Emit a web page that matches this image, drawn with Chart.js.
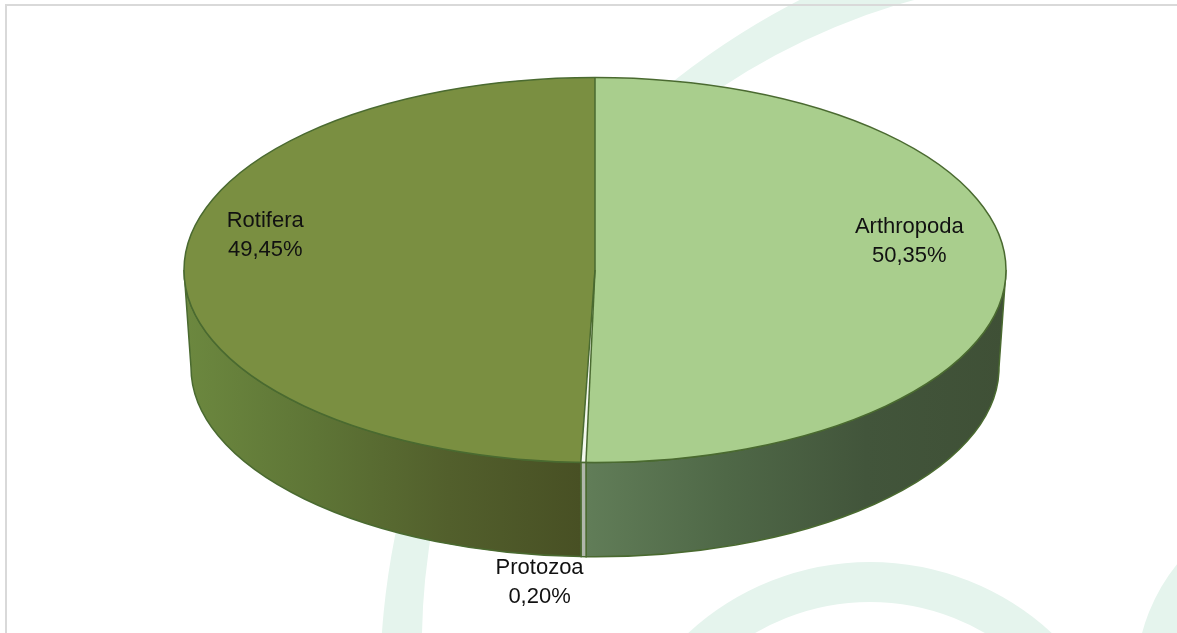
<!DOCTYPE html>
<html>
<head>
<meta charset="utf-8">
<script src="https://cdn.jsdelivr.net/npm/chart.js@4.4.1/dist/chart.umd.min.js"></script>
<style>
  html, body { margin: 0; padding: 0; background: #fff; overflow: hidden; }
  canvas { display: block; }
</style>
</head>
<body>
<canvas id="chart" width="1177" height="633"></canvas>
<script>
const categories = ["Arthropoda", "Protozoa", "Rotifera"];
const shares = [50.35, 0.20, 49.45];
const topColors = ["#a9ce8d", "#f3f8ef", "#7a8f41"];
// rim shading, left to right
const sideColors = [
  ["#617d58", "#4f6847", "#42553b", "#3f5036"],
  ["#b0b7ab", "#b0b7ab"],
  ["#6c883f", "#5e7536", "#525f2c", "#485024"],
];

// on-screen size of the tilted top and of the rim below it
const RX = 411, RY = 192.5, DEPTH = 97.5, SHRINK = 0.983;
const EDGE = "#4a6a30";

// where each label sits: r = fraction of the radius on the top face, rim = under the rim
const labelPlace = [
  { r: 0.76, dx: 2, dy: -39 },
  { rim: true, dx: -44, dy: 17 },
  { r: 0.8, dx: -1, dy: -40 },
];

const fmt = v => v.toFixed(2).replace(".", ",") + "%";

const pie3d = {
  id: "pie3d",
  beforeDraw(chart) {
    const ctx = chart.ctx;
    ctx.save();
    ctx.fillStyle = "#fff";
    ctx.fillRect(0, 0, chart.width, chart.height);
    // faint swooshes in the background
    ctx.fillStyle = "#e5f4ed";
    ctx.beginPath();
    ctx.arc(1153, 687.5, 773, 0, Math.PI * 2);
    ctx.arc(1090.6, 645, 668.7, 0, Math.PI * 2, true);
    ctx.fill("evenodd");
    ctx.strokeStyle = "#e5f4ed";
    ctx.lineWidth = 40;
    ctx.beginPath();
    ctx.arc(870, 830, 248, 0, Math.PI * 2);
    ctx.stroke();
    ctx.beginPath();
    ctx.arc(1320, 680, 164, 0, Math.PI * 2);
    ctx.stroke();
    // frame
    ctx.strokeStyle = "#d9d9d9";
    ctx.lineWidth = 2;
    ctx.strokeRect(6, 5, 1400, 1000);
    ctx.restore();
  },

  beforeDatasetsDraw(chart) {
    const ctx = chart.ctx;
    const arcs = chart.getDatasetMeta(0).data;
    const { x: cx, y: cy, outerRadius: r } = arcs[0];

    // rim: only the front half (0..PI) shows
    arcs.forEach((arc, i) => {
      const a1 = Math.max(arc.startAngle, 0);
      const a2 = Math.min(arc.endAngle, Math.PI);
      if (a1 >= a2) return;
      const xa = cx + RX * Math.cos(a1), xb = cx + RX * Math.cos(a2);
      const g = ctx.createLinearGradient(Math.min(xa, xb), 0, Math.max(xa, xb), 0);
      const stops = sideColors[i];
      stops.forEach((c, k) => g.addColorStop(k / (stops.length - 1), c));
      ctx.beginPath();
      ctx.ellipse(cx, cy, RX, RY, 0, a1, a2);
      ctx.ellipse(cx, cy + DEPTH, RX * SHRINK, RY * SHRINK, 0, a2, a1, true);
      ctx.closePath();
      ctx.fillStyle = g;
      ctx.fill();
      ctx.strokeStyle = EDGE;
      ctx.lineWidth = 1.5;
      ctx.stroke();
    });

    // squash the round pie into the tilted top face
    ctx.save();
    ctx.translate(cx, cy);
    ctx.scale(RX / r, RY / r);
    ctx.translate(-cx, -cy);
  },

  afterDatasetsDraw(chart) {
    const ctx = chart.ctx;
    ctx.restore();
    const arcs = chart.getDatasetMeta(0).data;
    const { x: cx, y: cy } = arcs[0];

    ctx.save();
    ctx.strokeStyle = EDGE;
    ctx.lineWidth = 1.5;
    ctx.beginPath();
    ctx.ellipse(cx, cy, RX, RY, 0, 0, Math.PI * 2);
    ctx.stroke();

    arcs.forEach(arc => {
      const a = arc.startAngle;
      ctx.beginPath();
      ctx.moveTo(cx, cy);
      ctx.lineTo(cx + RX * Math.cos(a), cy + RY * Math.sin(a));
      ctx.stroke();
    });

    // labels
    ctx.fillStyle = "#111";
    ctx.font = '22px "Liberation Sans", Arial, sans-serif';
    ctx.textAlign = "center";
    ctx.textBaseline = "alphabetic";
    arcs.forEach((arc, i) => {
      const mid = (arc.startAngle + arc.endAngle) / 2;
      const p = labelPlace[i];
      let x, y;
      if (p.rim) {
        x = cx + RX * SHRINK * Math.cos(mid);
        y = cy + DEPTH + RY * SHRINK;
      } else {
        x = cx + RX * p.r * Math.cos(mid);
        y = cy + RY * p.r * Math.sin(mid);
      }
      x += p.dx;
      y += p.dy;
      ctx.fillText(categories[i], x, y);
      ctx.fillText(fmt(shares[i]), x, y + 29);
    });
    ctx.restore();
  },
};

new Chart(document.getElementById("chart"), {
  type: "pie",
  data: {
    labels: categories,
    datasets: [{
      data: shares,
      backgroundColor: topColors,
      borderWidth: 0,
      clip: false,
    }],
  },
  options: {
    responsive: false,
    animation: false,
    events: [],
    layout: { padding: { left: 13, top: 0, right: 0, bottom: 93 } },
    plugins: {
      legend: { display: false },
      tooltip: { enabled: false },
    },
  },
  plugins: [pie3d],
});
</script>
</body>
</html>
